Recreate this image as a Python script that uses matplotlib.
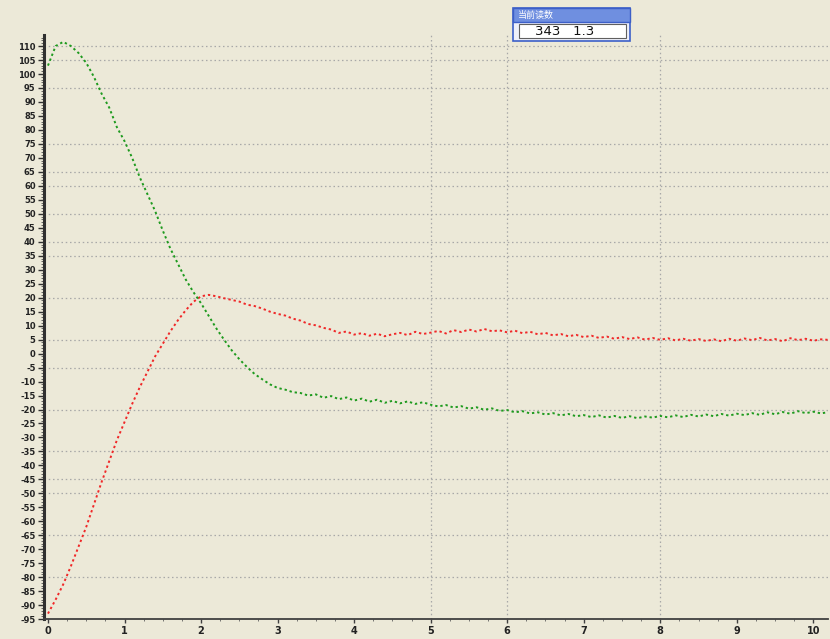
import numpy as np
import matplotlib
matplotlib.use("Agg")
import matplotlib.pyplot as plt
from matplotlib.patches import Rectangle

# ---- data -------------------------------------------------------------
time_s = np.linspace(0.0, 10.2, 103)

red_trace = [
    -93, -88, -82.5, -76, -69, -62, -54, -46, -38.5, -31,
    -24.5, -18, -12, -6.5, -1, 3.5, 8, 12, 15.5, 18.5,
    20.5, 21, 20.5, 19.8, 19.2, 18.6, 17.5, 17, 16.1, 15,
    14.2, 13.6, 12.5, 11.8, 10.6, 10.1, 9.2, 8.6, 7.4, 7.9,
    6.8, 7.3, 6.4, 7.1, 6.2, 6.9, 7.4, 6.6, 7.8, 7.0,
    7.5, 8.1, 7.2, 8.4, 7.7, 8.6, 7.9, 8.8, 8.0, 8.3,
    7.6, 8.2, 7.3, 7.8, 6.9, 7.4, 6.5, 7.0, 6.2, 6.7,
    5.9, 6.4, 5.6, 6.1, 5.3, 5.9, 5.2, 5.8, 5.0, 5.6,
    4.9, 5.5, 4.7, 5.3, 4.6, 5.2, 4.5, 5.1, 4.4, 5.3,
    4.6, 5.4, 4.8, 5.6, 4.7, 5.2, 4.4, 5.5, 4.8, 5.3,
    4.6, 5.1, 4.9,
]

green_trace = [
    103, 110, 111.5, 110, 107.5, 104, 99, 93, 88, 81,
    76, 70, 63, 57, 51, 44, 37.5, 32, 26.5, 22,
    18, 13.5, 9, 5, 1.2, -2, -4.8, -7.3, -9.2, -11,
    -12.3, -12.9, -13.8, -14.1, -15.0, -14.6, -15.8, -15.2, -16.3, -15.7,
    -16.8, -16.1, -17.2, -16.5, -17.6, -16.9, -17.8, -17.1, -18.0, -17.4,
    -18.3, -18.9, -18.4, -19.3, -18.8, -19.7, -19.2, -20.1, -19.6, -20.5,
    -20.2, -21.0, -20.6, -21.4, -21.0, -21.8, -21.3, -22.1, -21.6, -22.4,
    -22.0, -22.7, -22.1, -22.9, -22.3, -23.0, -22.4, -23.1, -22.5, -22.9,
    -22.3, -22.8, -22.1, -22.7, -21.9, -22.5, -21.8, -22.4, -21.6, -22.2,
    -21.5, -22.0, -21.3, -21.9, -21.0, -21.7, -20.9, -21.5, -20.6, -21.3,
    -20.8, -21.4, -20.9,
]

x_ticks = list(range(0, 11))
y_ticks = list(range(-95, 115, 5))
h_grid = [110, 105, 95, 75, 65, 60, 50, 40, 35, 20, 5, -5, -20, -35, -45, -50, -65, -80]
v_grid = [5, 6, 8]

readout_title = "当前读数"
readout_value = "343   1.3"

# ---- figure -------------------------------------------------------------
bg = "#ECE9D8"
fig = plt.figure(figsize=(8.3, 6.39), dpi=100, facecolor=bg)
ax = fig.add_axes([0.053, 0.031, 0.945, 0.914], facecolor=bg)

ax.set_xlim(-0.052, 10.196)
ax.set_ylim(-94.6, 113.9)

grid_kw = dict(color="#a8a8a8", lw=0.9, linestyle=(0, (1.2, 2.2)), zorder=1)
for v in h_grid:
    ax.axhline(v, **grid_kw)
for v in v_grid:
    ax.axvline(v, **grid_kw)

ax.plot(time_s, red_trace, color="#F02828", lw=1.4,
        linestyle=(0, (1.2, 1.5)), zorder=3)
ax.plot(time_s, green_trace, color="#1E9A1E", lw=1.4,
        linestyle=(0, (1.2, 1.5)), zorder=3)

# axes styling
for side in ("top", "right"):
    ax.spines[side].set_visible(False)
ax.spines["left"].set_color("#303030")
ax.spines["left"].set_linewidth(2.2)
ax.spines["bottom"].set_color("#404040")
ax.spines["bottom"].set_linewidth(1.3)
ax.spines["bottom"].set_linestyle((0, (2.5, 1.0)))

ax.set_xticks(x_ticks)
ax.set_xticklabels([str(t) for t in x_ticks])
ax.set_yticks(y_ticks)
ax.set_yticklabels([str(t) for t in y_ticks])
ax.set_yticks(np.arange(-94, 114, 1), minor=True)
ax.set_xticks(np.arange(0, 10.2, 0.25), minor=True)

ax.tick_params(axis="y", which="major", length=4, width=1.0, color="#303030",
               labelsize=6, pad=2, labelcolor="#222222")
ax.tick_params(axis="y", which="minor", length=2, width=0.6, color="#505050")
ax.tick_params(axis="x", which="major", length=3, width=1.0, color="#404040",
               labelsize=7, pad=2, labelcolor="#222222")
ax.tick_params(axis="x", which="minor", length=1.5, width=0.6, color="#606060")
for lbl in ax.get_yticklabels() + ax.get_xticklabels():
    lbl.set_fontweight("bold")

# readout box at the top
bx0, bx1 = 513 / 830, 630 / 830
by_top, by_mid, by_bot = 1 - 8 / 639, 1 - 22 / 639, 1 - 41 / 639
fig.patches.append(Rectangle((bx0, by_bot), bx1 - bx0, by_top - by_bot,
                             transform=fig.transFigure, facecolor="#EEF0FA",
                             edgecolor="#3C5FC8", lw=1.2, zorder=5))
fig.patches.append(Rectangle((bx0, by_mid), bx1 - bx0, by_top - by_mid,
                             transform=fig.transFigure, facecolor="#6F8FE0",
                             edgecolor="#3C5FC8", lw=1.0, zorder=6))
fig.patches.append(Rectangle((bx0 + 0.007, by_bot + 0.004), bx1 - bx0 - 0.012,
                             by_mid - by_bot - 0.007, transform=fig.transFigure,
                             facecolor="white", edgecolor="#606060", lw=0.8, zorder=6))
fig.text(bx0 + 0.006, (by_top + by_mid) / 2, readout_title, color="white",
         fontsize=6.5, va="center", ha="left",
         family=["Noto Sans CJK SC", "DejaVu Sans"], zorder=7)
fig.text((bx0 + bx1) / 2 - 0.008, (by_mid + by_bot) / 2, readout_value,
         color="#111111", fontsize=9.5, va="center", ha="center", zorder=7)

fig.savefig("out.png", dpi=100, facecolor=bg)
